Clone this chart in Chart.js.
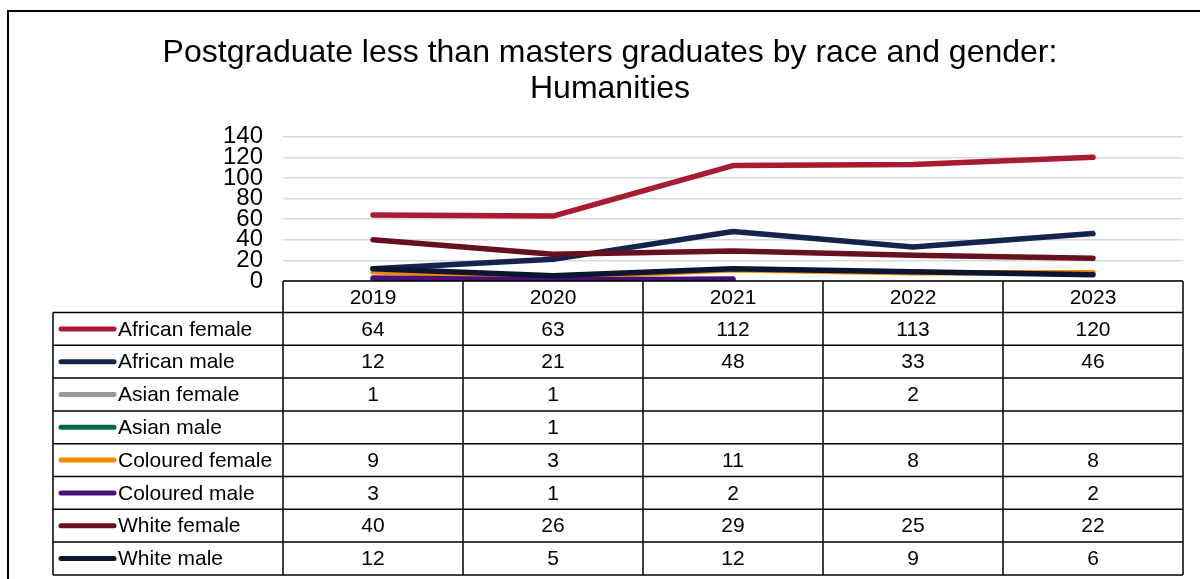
<!DOCTYPE html>
<html>
<head>
<meta charset="utf-8">
<title>Postgraduate less than masters graduates: Humanities</title>
<script src="https://cdn.jsdelivr.net/npm/chart.js@4.4.1/dist/chart.umd.min.js"></script>
<style>
  body { margin: 0; background: #fff; }
  .chart-wrap { position: relative; width: 1200px; height: 579px; overflow: hidden; }
  .chart-frame {
    position: absolute; left: 7px; top: 10px; width: 1300px; height: 700px;
    border-left: 2px solid #000; border-top: 2px solid #000; pointer-events: none;
  }
</style>
</head>
<body>
<div class="chart-wrap">
  <canvas id="graduatesChart" width="1200" height="579"></canvas>
  <div class="chart-frame"></div>
</div>
<script>
const years = ['2019', '2020', '2021', '2022', '2023'];

const seriesNames = [
  'African female', 'African male', 'Asian female', 'Asian male',
  'Coloured female', 'Coloured male', 'White female', 'White male'
];
const seriesColors = [
  '#A91B32', '#15244F', '#999999', '#00694C',
  '#EE8A00', '#4B1078', '#67111E', '#0B1731'
];

// graduate counts per year, null where the table cell is blank
const africanFemale = [64, 63, 112, 113, 120];
const africanMale = [12, 21, 48, 33, 46];
const asianFemale = [1, 1, null, 2, null];
const asianMale = [null, 1, null, null, null];
const colouredFemale = [9, 3, 11, 8, 8];
const colouredMale = [3, 1, 2, null, 2];
const whiteFemale = [40, 26, 29, 25, 22];
const whiteMale = [12, 5, 12, 9, 6];

const seriesValues = [
  africanFemale, africanMale, asianFemale, asianMale,
  colouredFemale, colouredMale, whiteFemale, whiteMale
];

const yMax = 140;
const yStep = 20;

const FONT = "'Liberation Sans', Arial, sans-serif";

/**
 * Lines have no markers, so a value with blanks on both sides shows nothing.
 * Drop those one-point segments, otherwise the round cap leaves a dot.
 */
const hideLonePointsPlugin = {
  id: 'hideLonePoints',
  beforeDatasetDraw(chart, args) {
    const line = args.meta.dataset;
    if (!line || !line.segments) return;
    line._segments = line.segments.filter(function(s) {
      return s.start !== s.end;
    });
  }
};

/**
 * Data table under the plot: a year header row, then one row per series
 * with a line key, the series name and its values in each year column.
 */
const dataTablePlugin = {
  id: 'dataTable',
  afterDraw(chart) {
    const ctx = chart.ctx;
    const xScale = chart.scales.x;
    const top = chart.chartArea.bottom;
    const headH = 31.5;
    const rowH = 32.8;
    const keyLeft = 53;
    const n = years.length;

    // column edges sit halfway between category centres
    const edges = [xScale.left];
    for (let i = 1; i < n; i++) {
      edges.push((xScale.getPixelForValue(i - 1) + xScale.getPixelForValue(i)) / 2);
    }
    edges.push(xScale.right);

    const bodyTop = top + headH;
    const bottom = bodyTop + rowH * seriesNames.length;

    ctx.save();
    ctx.strokeStyle = '#000';
    ctx.lineWidth = 1.5;
    ctx.beginPath();
    // header row
    ctx.moveTo(edges[0], top);
    ctx.lineTo(xScale.right, top);
    edges.forEach(function(x) {
      ctx.moveTo(x, top);
      ctx.lineTo(x, bottom);
    });
    // body rows
    for (let r = 0; r <= seriesNames.length; r++) {
      const y = bodyTop + r * rowH;
      ctx.moveTo(keyLeft, y);
      ctx.lineTo(xScale.right, y);
    }
    ctx.moveTo(keyLeft, bodyTop);
    ctx.lineTo(keyLeft, bottom);
    ctx.stroke();

    ctx.fillStyle = '#000';
    ctx.font = '21px ' + FONT;
    ctx.textBaseline = 'middle';
    ctx.textAlign = 'center';
    years.forEach(function(year, i) {
      ctx.fillText(year, xScale.getPixelForValue(i), top + headH / 2 + 1);
    });

    seriesNames.forEach(function(name, r) {
      const cy = bodyTop + r * rowH + rowH / 2;

      ctx.strokeStyle = seriesColors[r];
      ctx.lineWidth = 5;
      ctx.lineCap = 'round';
      ctx.beginPath();
      ctx.moveTo(61, cy);
      ctx.lineTo(114, cy);
      ctx.stroke();

      ctx.fillStyle = '#000';
      ctx.textAlign = 'left';
      ctx.fillText(name, 118, cy + 1);

      ctx.textAlign = 'center';
      seriesValues[r].forEach(function(v, i) {
        if (v === null) return;
        ctx.fillText(String(v), xScale.getPixelForValue(i), cy + 1);
      });
    });
    ctx.restore();
  }
};

document.addEventListener('DOMContentLoaded', function() {
  initGraduatesChart();
});

function initGraduatesChart() {
  const ctx = document.getElementById('graduatesChart');
  if (!ctx) return;

  const datasets = seriesNames.map(function(name, i) {
    return {
      label: name,
      data: seriesValues[i],
      borderColor: seriesColors[i],
      backgroundColor: seriesColors[i],
      borderWidth: 5.5,
      borderCapStyle: 'round',
      borderJoinStyle: 'round',
      pointRadius: 0,
      tension: 0,
      spanGaps: false,
      // later series paint over earlier ones
      order: seriesNames.length - i
    };
  });

  new Chart(ctx, {
    type: 'line',
    data: {
      labels: years,
      datasets: datasets
    },
    options: {
      responsive: false,
      animation: false,
      devicePixelRatio: 1,
      layout: {
        padding: { left: 37, right: 17, top: 0, bottom: 298 }
      },
      plugins: {
        legend: { display: false },
        tooltip: { enabled: false },
        title: {
          display: true,
          text: ['Postgraduate less than masters graduates by race and gender:', 'Humanities'],
          color: '#000',
          font: { family: FONT, size: 32, weight: 'normal', lineHeight: 1.12 },
          padding: { top: 35, bottom: 30 }
        }
      },
      scales: {
        x: {
          display: false,
          offset: true
        },
        y: {
          min: 0,
          max: yMax,
          afterFit: function(scale) {
            scale.width = 246;
          },
          ticks: {
            stepSize: yStep,
            autoSkip: false,
            color: '#000',
            padding: 20,
            font: { family: FONT, size: 24, lineHeight: 1 }
          },
          grid: {
            color: '#d9d9d9',
            lineWidth: 1.5,
            drawTicks: false
          },
          border: { display: false }
        }
      }
    },
    plugins: [hideLonePointsPlugin, dataTablePlugin]
  });
}
</script>
</body>
</html>
